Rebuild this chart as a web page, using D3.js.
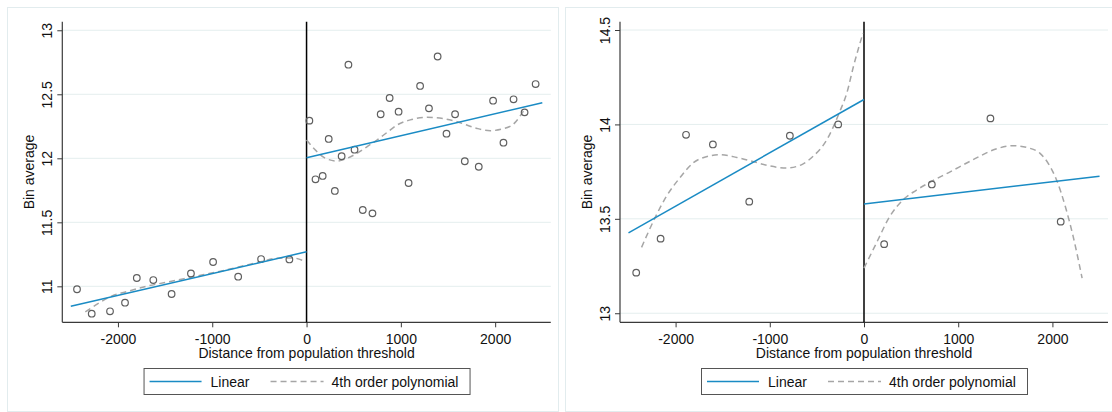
<!DOCTYPE html>
<html>
<head>
<meta charset="utf-8">
<script src="https://cdn.jsdelivr.net/npm/d3@7"></script>
<style>
  html, body { margin: 0; padding: 0; background: #fff; }
  svg { display: block; font-family: "Liberation Sans", Arial, sans-serif; }
</style>
</head>
<body>
<svg id="chart" width="1112" height="412"></svg>
<script>
// Shared x axis
const xTicks = [-2000, -1000, 0, 1000, 2000];
const xTitle = "Distance from population threshold";
const yTitle = "Bin average";
const legendLabels = ["Linear", "4th order polynomial"];

// Panel A: bin averages
const aTicksY = [11, 11.5, 12, 12.5, 13];
const aBinX = [-2434, -2278, -2084, -1925, -1800, -1625, -1431, -1226, -991, -725, -482, -182,
  30, 95, 171, 235, 300, 372, 444, 509, 596, 699, 786, 881, 976, 1082, 1204, 1298, 1390, 1484,
  1575, 1678, 1826, 1978, 2088, 2195, 2312, 2429];
const aBinY = [10.977, 10.786, 10.805, 10.872, 11.065, 11.049, 10.94, 11.10, 11.19, 11.075, 11.213, 11.21,
  12.294, 11.836, 11.862, 12.151, 11.745, 12.016, 12.731, 12.067, 11.596, 11.570, 12.344, 12.471, 12.364,
  11.807, 12.565, 12.39, 12.795, 12.192, 12.344, 11.977, 11.934, 12.45, 12.122, 12.461, 12.359, 12.58];
// Panel A: linear fits (below / above threshold)
const aLinLeftX = [-2500, 0], aLinLeftY = [10.844, 11.27];
const aLinRightX = [0, 2500], aLinRightY = [12.005, 12.434];
// Panel A: quartic fits
const aPolyLeftX = [-2346, -2200, -2082, -1900, -1700, -1500, -1300, -1100, -900, -700, -500, -300, -150, -24];
const aPolyLeftY = [10.80, 10.87, 10.919, 10.96, 11.0, 11.03, 11.06, 11.09, 11.12, 11.155, 11.19, 11.22, 11.222, 11.198];
const aPolyRightX = [0, 100, 200, 322, 430, 534, 640, 747, 850, 959, 1100, 1277, 1450, 1595, 1800, 1948, 2080, 2195, 2301];
const aPolyRightY = [12.143, 12.06, 12.0, 11.979, 12.0, 12.039, 12.09, 12.143, 12.2, 12.26, 12.3, 12.32, 12.31, 12.286, 12.235, 12.216, 12.23, 12.268, 12.37];

// Panel B: bin averages
const bTicksY = [13, 13.5, 14, 14.5];
const bBinX = [-2418, -2159, -1889, -1604, -1218, -787, -274, 214, 720, 1342, 2088];
const bBinY = [13.215, 13.395, 13.945, 13.894, 13.591, 13.94, 14.0, 13.366, 13.682, 14.032, 13.485];
const bLinLeftX = [-2500, 0], bLinLeftY = [13.426, 14.132];
const bLinRightX = [0, 2500], bLinRightY = [13.578, 13.726];
const bPolyLeftX = [-2361, -2211, -2097, -1950, -1814, -1650, -1531, -1350, -1180, -1000, -823, -650, -543, -394, -264, -180, -112, -11];
const bPolyLeftY = [13.349, 13.513, 13.619, 13.72, 13.796, 13.832, 13.84, 13.825, 13.804, 13.78, 13.769, 13.79, 13.83, 13.919, 14.06, 14.17, 14.307, 14.483];
const bPolyRightX = [0, 132, 274, 415, 550, 717, 900, 1158, 1400, 1583, 1750, 1866, 1960, 2043, 2140, 2220, 2315];
const bPolyRightY = [13.239, 13.372, 13.513, 13.601, 13.65, 13.698, 13.745, 13.813, 13.87, 13.887, 13.875, 13.848, 13.79, 13.707, 13.56, 13.407, 13.186];

const linColor = "#1a8bc4";
const polyColor = "#a6a6a6";
const markColor = "#5f5f5f";
const gridColor = "#e4eeee";
const axisColor = "#3a3a3a";

const svg = d3.select("#chart");

const zip = (xs, ys) => xs.map((x, i) => [x, ys[i]]);

function drawPanel(cfg) {
  const g = svg.append("g");
  // outer graph region outline
  g.append("rect")
    .attr("x", cfg.frame[0] + 0.5).attr("y", cfg.frame[1] + 0.5)
    .attr("width", cfg.frame[2]).attr("height", cfg.frame[3])
    .attr("fill", "none").attr("stroke", "#e2ecee").attr("stroke-width", 1);

  const x = d3.scaleLinear().domain([-2590, 2590]).range([cfg.left, cfg.right]);
  const y = d3.scaleLinear().domain(cfg.yDomain).range([cfg.bottom, cfg.top]);

  // horizontal grid
  g.append("g").selectAll("line").data(cfg.yTicks).join("line")
    .attr("x1", cfg.left).attr("x2", cfg.right)
    .attr("y1", d => y(d)).attr("y2", d => y(d))
    .attr("stroke", gridColor).attr("stroke-width", 1);

  // y axis
  const yAxis = g.append("g").attr("transform", `translate(${cfg.left},0)`)
    .call(d3.axisLeft(y).tickValues(cfg.yTicks).tickSize(5).tickSizeOuter(0).tickFormat(d => String(d)));
  yAxis.select(".domain").remove();
  yAxis.selectAll(".tick line").attr("stroke", axisColor);
  yAxis.selectAll(".tick text")
    .attr("x", null).attr("dy", null)
    .attr("transform", "translate(-10,0) rotate(-90)")
    .attr("text-anchor", "middle")
    .attr("font-size", 14).attr("fill", "#111")
    .attr("font-family", "Liberation Sans, Arial, sans-serif");
  g.append("line").attr("x1", cfg.left).attr("x2", cfg.left)
    .attr("y1", cfg.top).attr("y2", cfg.bottom).attr("stroke", axisColor).attr("stroke-width", 1.2);

  // x axis
  const xAxis = g.append("g").attr("transform", `translate(0,${cfg.bottom})`)
    .call(d3.axisBottom(x).tickValues(xTicks).tickSize(5).tickSizeOuter(0).tickFormat(d => String(d)));
  xAxis.select(".domain").remove();
  xAxis.selectAll(".tick line").attr("stroke", axisColor);
  xAxis.selectAll(".tick text")
    .attr("y", null).attr("dy", null)
    .attr("transform", "translate(0,22)")
    .attr("font-size", 14).attr("fill", "#111")
    .attr("font-family", "Liberation Sans, Arial, sans-serif");
  g.append("line").attr("x1", cfg.left).attr("x2", cfg.right)
    .attr("y1", cfg.bottom).attr("y2", cfg.bottom).attr("stroke", axisColor).attr("stroke-width", 1.2);

  // axis titles
  g.append("text")
    .attr("transform", `translate(${cfg.left - 28},${(cfg.top + cfg.bottom) / 2}) rotate(-90)`)
    .attr("text-anchor", "middle").attr("font-size", 14).attr("fill", "#111").text(yTitle);
  g.append("text")
    .attr("x", (cfg.left + cfg.right) / 2).attr("y", cfg.bottom + 36)
    .attr("text-anchor", "middle").attr("font-size", 14).attr("fill", "#111").text(xTitle);

  // threshold line
  g.append("line").attr("x1", x(0)).attr("x2", x(0))
    .attr("y1", cfg.top).attr("y2", cfg.bottom)
    .attr("stroke", "#000").attr("stroke-width", 1.5);

  const line = d3.line().x(d => x(d[0])).y(d => y(d[1]));
  const curve = d3.line().x(d => x(d[0])).y(d => y(d[1])).curve(d3.curveMonotoneX);

  // quartic fits
  [cfg.polyL, cfg.polyR].forEach(p => {
    g.append("path").attr("d", curve(p)).attr("fill", "none")
      .attr("stroke", polyColor).attr("stroke-width", 1.5).attr("stroke-dasharray", "6,4");
  });

  // bin markers
  g.append("g").selectAll("circle").data(cfg.bins).join("circle")
    .attr("cx", d => x(d[0])).attr("cy", d => y(d[1])).attr("r", 3.3)
    .attr("fill", "none").attr("stroke", markColor).attr("stroke-width", 1.2);

  // linear fits
  [cfg.linL, cfg.linR].forEach(p => {
    g.append("path").attr("d", line(p)).attr("fill", "none")
      .attr("stroke", linColor).attr("stroke-width", 1.5);
  });

  // legend
  const lw = 326, lh = 26;
  const cx = (cfg.left + cfg.right) / 2;
  const lg = g.append("g").attr("transform", `translate(${cx - lw / 2},368)`);
  lg.append("rect").attr("x", 0.5).attr("y", 0.5).attr("width", lw).attr("height", lh)
    .attr("fill", "#fff").attr("stroke", "#555").attr("stroke-width", 1);
  lg.append("line").attr("x1", 6).attr("x2", 58).attr("y1", 13.5).attr("y2", 13.5)
    .attr("stroke", linColor).attr("stroke-width", 1.5);
  lg.append("text").attr("x", 67).attr("y", 18.5).attr("font-size", 14).attr("fill", "#111").text(legendLabels[0]);
  lg.append("line").attr("x1", 127).attr("x2", 180).attr("y1", 13.5).attr("y2", 13.5)
    .attr("stroke", polyColor).attr("stroke-width", 1.5).attr("stroke-dasharray", "6,4");
  lg.append("text").attr("x", 188).attr("y", 18.5).attr("font-size", 14).attr("fill", "#111").text(legendLabels[1]);
}

drawPanel({
  frame: [7, 7, 551, 404],
  left: 62.3, right: 550.8, top: 21.7, bottom: 322.3,
  yDomain: [10.719, 13.067], yTicks: aTicksY,
  bins: zip(aBinX, aBinY),
  linL: zip(aLinLeftX, aLinLeftY), linR: zip(aLinRightX, aLinRightY),
  polyL: zip(aPolyLeftX, aPolyLeftY), polyR: zip(aPolyRightX, aPolyRightY)
});

drawPanel({
  frame: [565, 7, 552, 404],
  left: 620, right: 1108, top: 21.7, bottom: 322.3,
  yDomain: [12.952, 14.544], yTicks: bTicksY,
  bins: zip(bBinX, bBinY),
  linL: zip(bLinLeftX, bLinLeftY), linR: zip(bLinRightX, bLinRightY),
  polyL: zip(bPolyLeftX, bPolyLeftY), polyR: zip(bPolyRightX, bPolyRightY)
});
</script>
</body>
</html>
